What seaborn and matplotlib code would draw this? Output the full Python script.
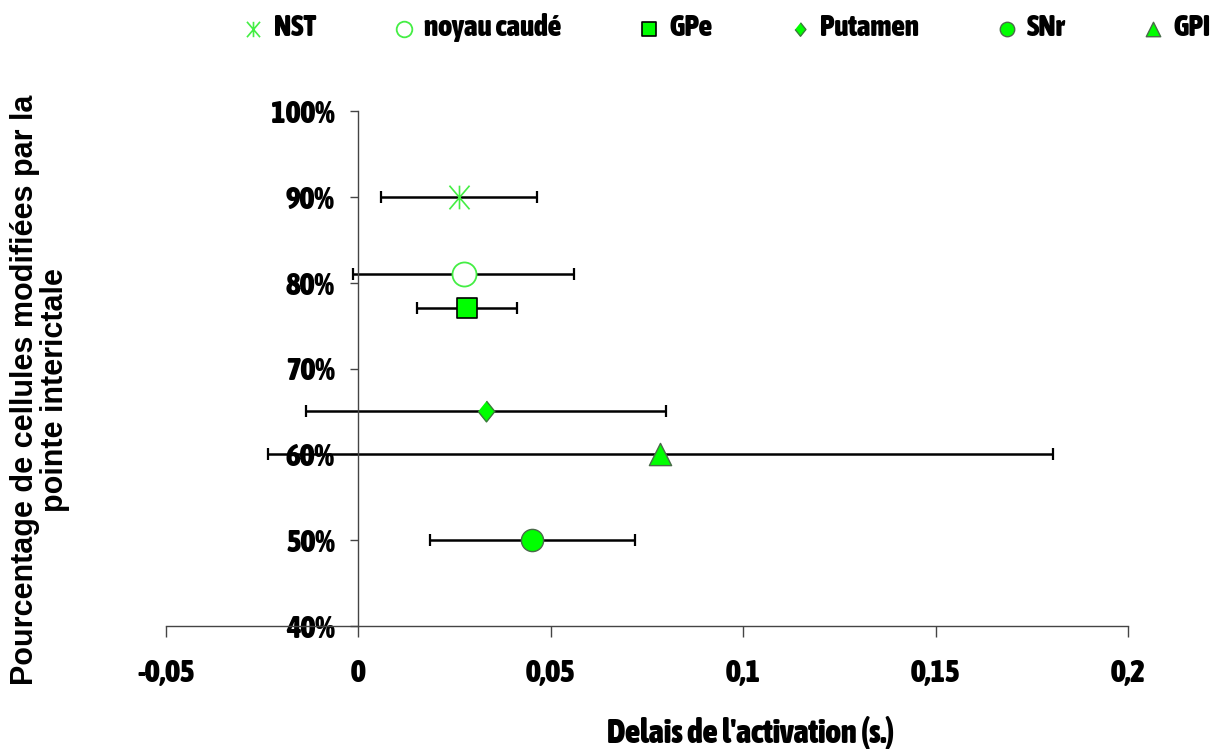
import pandas as pd
import matplotlib.pyplot as plt
from matplotlib import font_manager as fm
from matplotlib.path import Path
import seaborn as sns

# valeurs
regions = ['NST', 'noyau caudé', 'GPe', 'Putamen', 'SNr', 'GPI']
delais = [0.0262, 0.0274, 0.0282, 0.0331, 0.0452, 0.0785]
pourcentages = [90, 81, 77, 65, 50, 60]
erreurs = [0.0203, 0.0287, 0.0131, 0.0468, 0.0266, 0.1019]

x_ticks = [-0.05, 0, 0.05, 0.1, 0.15, 0.2]
x_labels = ['-0,05', '0', '0,05', '0,1', '0,15', '0,2']
y_ticks = [40, 50, 60, 70, 80, 90, 100]
y_labels = ['40%', '50%', '60%', '70%', '80%', '90%', '100%']

df = pd.DataFrame({'region': regions, 'delai': delais, 'pct': pourcentages, 'err': erreurs})

sns.set_style('white')
plt.rcParams['font.family'] = ['Liberation Sans', 'DejaVu Sans']
plt.rcParams['font.weight'] = 'bold'
plt.rcParams['text.color'] = 'black'


# police étroite grasse si elle existe (Arial Narrow dans l'original)
def police_etroite():
    for f in fm.fontManager.ttflist:
        w = f.weight if not isinstance(f.weight, str) else fm.weight_dict.get(f.weight, 400)
        nom = f.name
        if ('Narrow' in nom or 'Condensed' in nom) and 'DejaVu' not in nom \
                and f.style == 'normal' and int(w) >= 600:
            return f.fname
    return None


etroite = police_etroite()
if etroite:
    fp_ticks = fm.FontProperties(fname=etroite, size=22.5)
    fp_leg = fm.FontProperties(fname=etroite, size=21)
    fp_xlab = fm.FontProperties(fname=etroite, size=23.5)
else:
    fp_ticks = fm.FontProperties(family='Liberation Sans', weight='bold', size=19)
    fp_leg = fm.FontProperties(family='Liberation Sans', weight='bold', size=17.5)
    fp_xlab = fm.FontProperties(family='Liberation Sans', weight='bold', size=19)

# étoile d'Excel : un X plus un trait vertical
etoile = Path([(0, -1), (0, 1), (-0.85, -1), (0.85, 1), (-0.85, 1), (0.85, -1)],
              [Path.MOVETO, Path.LINETO] * 3)
losange = [(0, 1), (0.8, 0), (0, -1), (-0.8, 0)]

vert = '#00ff00'
styles = {
    'NST': dict(marker=etoile, s=290, color='#44ee44', edgecolor='#44ee44', linewidth=1.2),
    'noyau caudé': dict(marker='o', s=300, color='white', edgecolor='#44ee44', linewidth=1.3),
    'GPe': dict(marker='s', s=225, color=vert, edgecolor='black', linewidth=1.2),
    'Putamen': dict(marker=losange, s=225, color=vert, edgecolor='#3a7a3a', linewidth=1.0),
    'SNr': dict(marker='o', s=256, color=vert, edgecolor='#4a6a4a', linewidth=1.0),
    'GPI': dict(marker='^', s=256, color=vert, edgecolor='#4a6a4a', linewidth=1.0),
}

fig = plt.figure(figsize=(12.1, 7.49), dpi=100)
ax = fig.add_axes([166 / 1210, 1 - 626 / 749, 962 / 1210, 515 / 749])

ax.errorbar(df['delai'], df['pct'], xerr=df['err'], fmt='none', ecolor='black',
            elinewidth=1.8, capsize=4, capthick=1.6, zorder=2)

for reg in regions:
    sub = df[df['region'] == reg]
    sns.scatterplot(data=sub, x='delai', y='pct', ax=ax, label=reg, zorder=3, **styles[reg])

if ax.get_legend() is not None:
    ax.get_legend().remove()

# axe vertical sur x = 0 (à faire avant les étiquettes, sinon elles sont réinitialisées)
for side in ['top', 'right']:
    ax.spines[side].set_visible(False)
ax.spines['left'].set_position(('data', 0))
for side in ['left', 'bottom']:
    ax.spines[side].set_color('#444444')
    ax.spines[side].set_linewidth(1.0)

ax.set_xlim(-0.05, 0.2)
ax.set_ylim(40, 100)
ax.set_xticks(x_ticks)
ax.set_xticklabels(x_labels)
ax.set_yticks(y_ticks)
ax.set_yticklabels(y_labels)

ax.tick_params(axis='y', direction='out', length=6, width=1, color='#444444', pad=11)
ax.tick_params(axis='x', direction='out', length=8, width=1, color='#444444', pad=15)
ax.tick_params(left=True, bottom=True)

for lab in ax.get_xticklabels() + ax.get_yticklabels():
    lab.set_fontproperties(fp_ticks)
    lab.set_color('black')

ax.set_xlabel("Delais de l'activation (s.)", fontproperties=fp_xlab, va='center', color='black')
ax.xaxis.set_label_coords(0.608, -0.208)
ax.set_ylabel('Pourcentage de cellules modifiées par la\npointe interictale', fontsize=22,
              family=['Liberation Sans', 'DejaVu Sans'], weight='bold', color='black',
              ha='center', va='center', linespacing=1.0)
ax.yaxis.set_label_coords(-0.131, 0.458)

handles, labels = ax.get_legend_handles_labels()
fig.legend(handles, labels, loc='center', bbox_to_anchor=(0.60, 0.963), ncol=6, frameon=False,
           markerscale=0.65, handlelength=0.8, handletextpad=0.3, columnspacing=2.6,
           prop=fp_leg)

fig.savefig('out.png', dpi=100)
